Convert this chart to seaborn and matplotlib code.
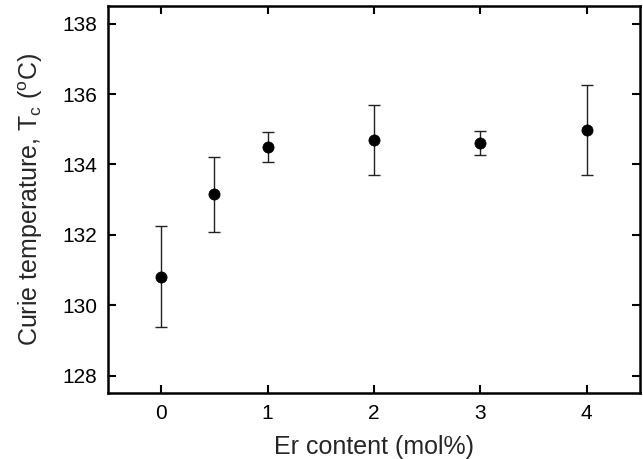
import matplotlib
matplotlib.use("Agg")
import matplotlib.pyplot as plt
import seaborn as sns
import pandas as pd

# Data
er_content = [0, 0.5, 1, 2, 3, 4]
curie_temp = [130.81, 133.15, 134.50, 134.69, 134.62, 134.99]
temp_err = [1.43, 1.06, 0.43, 0.99, 0.34, 1.28]
x_ticks = [0, 1, 2, 3, 4]
y_ticks = [128, 130, 132, 134, 136, 138]

sns.set_theme(style="ticks")
plt.rcParams['font.family'] = ['Liberation Sans', 'DejaVu Sans']
plt.rcParams['mathtext.fontset'] = 'custom'
plt.rcParams['mathtext.rm'] = 'Liberation Sans'
plt.rcParams['mathtext.it'] = 'Liberation Sans'

df = pd.DataFrame({"x": er_content, "y": curie_temp, "err": temp_err})

fig = plt.figure(figsize=(6.43, 4.59), dpi=100)
ax = fig.add_axes([0.168, 0.143, 0.827, 0.844])

ax.errorbar(df["x"], df["y"], yerr=df["err"], fmt="none", ecolor="#222222",
            elinewidth=1.0, capsize=4, capthick=1.0, zorder=2)
sns.scatterplot(data=df, x="x", y="y", ax=ax, color="black", s=65,
                edgecolor="black", linewidth=0.5, zorder=3)

ax.set_xlim(-0.5, 4.5)
ax.set_ylim(127.5, 138.5)
ax.set_xticks(x_ticks)
ax.set_yticks(y_ticks)
ax.tick_params(direction="in", length=6, width=1.5, top=True, right=True,
               labelsize=15, colors="black", pad=8)
for sp in ax.spines.values():
    sp.set_linewidth(1.8)
    sp.set_color("black")

ax.set_xlabel("Er content (mol%)", fontsize=18, labelpad=8)
ax.set_ylabel(r"Curie temperature, T$_\mathregular{c}$ ($^\mathregular{o}$C)", fontsize=18, labelpad=12)

fig.savefig("out.png", dpi=100)
